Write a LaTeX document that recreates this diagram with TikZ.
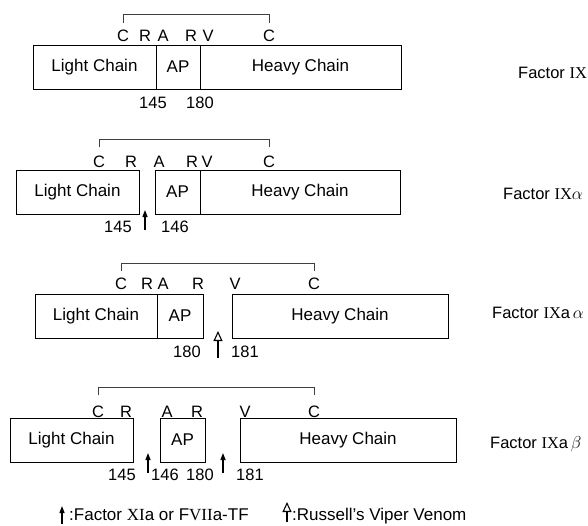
\documentclass[tikz,border=0pt]{standalone}
\usepackage{fontspec}
\setmainfont{Liberation Sans}
\newfontfamily\romfont{Liberation Serif}
\usetikzlibrary{arrows.meta,positioning}

\newcommand{\rn}[1]{{\romfont #1}}

\begin{document}
\begin{tikzpicture}[
    x=1pt, y=-1pt,
    node distance=0pt,
    chain/.style={draw,line width=1pt,minimum height=44pt,inner sep=0pt,outer sep=0pt,font=\fontsize{17}{20}\selectfont},
    res/.style={anchor=base,inner sep=0pt,font=\fontsize{16.5}{19}\selectfont},
    num/.style={anchor=base,inner sep=0pt,font=\fontsize{16.5}{19}\selectfont},
    fac/.style={anchor=base west,inner sep=0pt,font=\fontsize{16.5}{19}\selectfont},
    leg/.style={anchor=base west,inner sep=0pt,font=\fontsize{17}{20}\selectfont},
    bond/.style={draw=black!75,line width=0.9pt},
    cut/.style={-{Triangle[length=7pt,width=5pt]},line width=1.3pt},
    rvv/.style={-{Triangle[open,length=10pt,width=9pt]},line width=1.1pt}
  ]
  \useasboundingbox (0,0) rectangle (588,525);

  % Factor IX
  \node[chain,minimum width=123pt,anchor=north west] (lc1) at (33,45) {Light Chain};
  \node[chain,minimum width=44pt,right=of lc1] (ap1) {AP};
  \node[chain,minimum width=201pt,right=of ap1] (hc1) {Heavy Chain};
  \node[res] (c1a) at (123,41) {C};
  \node[res] (r1a) at (145,41) {R};
  \node[res] (a1) at (163,41) {A};
  \node[res] (r1b) at (191,41) {R};
  \node[res] (v1) at (208,41) {V};
  \node[res] (c1b) at (269,41) {C};
  \draw[bond] ([yshift=6pt]c1a.north) -- ++(0,-9) -| ([yshift=6pt]c1b.north);
  \node[num] (n1a) at (153,108) {145};
  \node[num] (n1b) at (200,108) {180};
  \node[fac] (f1) at (518,78) {Factor \rn{IX}};

  % Factor IXalpha
  \node[chain,minimum width=123pt,anchor=north west] (lc2) at (16,170) {Light Chain};
  \node[chain,minimum width=45pt,right=16pt of lc2] (ap2) {AP};
  \node[chain,minimum width=200pt,right=of ap2] (hc2) {Heavy Chain};
  \node[res] (c2a) at (99,167) {C};
  \node[res] (r2a) at (131,167) {R};
  \node[res] (a2) at (159,167) {A};
  \node[res] (r2b) at (192,167) {R};
  \node[res] (v2) at (207,167) {V};
  \node[res] (c2b) at (269,167) {C};
  \draw[bond] ([yshift=8pt]c2a.north) -- ++(0,-8) -| ([yshift=8pt]c2b.north);
  \node[num] (n2a) at (118,232) {145};
  \node[num] (n2b) at (175,232) {146};
  \coordinate (k2) at (145,210);
  \draw[cut] ([yshift=-20pt]k2) -- (k2);
  \node[fac] (f2) at (503,199) {Factor \rn{IX}$\alpha$};

  % Factor IXa alpha
  \node[chain,minimum width=122pt,anchor=north west] (lc3) at (35,294) {Light Chain};
  \node[chain,minimum width=46pt,right=of lc3] (ap3) {AP};
  \node[chain,minimum width=216pt,right=29pt of ap3] (hc3) {Heavy Chain};
  \node[res] (c3a) at (121,289) {C};
  \node[res] (r3a) at (147,289) {R};
  \node[res] (a3) at (163,289) {A};
  \node[res] (r3b) at (198,289) {R};
  \node[res] (v3) at (235,289) {V};
  \node[res] (c3b) at (314,289) {C};
  \draw[bond] ([yshift=6pt]c3a.north) -- ++(0,-8) -| ([yshift=6pt]c3b.north);
  \node[num] (n3a) at (187,357) {180};
  \node[num] (n3b) at (245,357) {181};
  \coordinate (k3) at (218,331);
  \draw[rvv] ([yshift=-27pt]k3) -- (k3);
  \node[fac] (f3) at (492,318) {Factor \rn{IX}a\,$\alpha$};

  % Factor IXa beta
  \node[chain,minimum width=123pt,anchor=north west] (lc4) at (10,418) {Light Chain};
  \node[chain,minimum width=45pt,right=27pt of lc4] (ap4) {AP};
  \node[chain,minimum width=216pt,right=35pt of ap4] (hc4) {Heavy Chain};
  \node[res] (c4a) at (98,417) {C};
  \node[res] (r4a) at (126,417) {R};
  \node[res] (a4) at (167,417) {A};
  \node[res] (r4b) at (197,417) {R};
  \node[res] (v4) at (245,417) {V};
  \node[res] (c4b) at (314,417) {C};
  \draw[bond] ([yshift=10pt]c4a.north) -- ++(0,-8) -| ([yshift=10pt]c4b.north);
  \node[num] (n4a) at (122,480) {145};
  \node[num] (n4b) at (165,480) {146};
  \node[num] (n4c) at (200,480) {180};
  \node[num] (n4d) at (250,480) {181};
  \coordinate (k4a) at (148,453);
  \coordinate (k4b) at (223,453);
  \draw[cut] ([yshift=-20pt]k4a) -- (k4a);
  \draw[cut] ([yshift=-20pt]k4b) -- (k4b);
  \node[fac] (f4) at (490,448) {Factor \rn{IX}a\,$\beta$};

  % legend
  \coordinate (lk1) at (62,506);
  \draw[cut] ([yshift=-18pt]lk1) -- (lk1);
  \node[leg] (l1) at (69,520) {:Factor \rn{XI}a or F\rn{VII}a-TF};
  \coordinate (lk2) at (287,502);
  \draw[rvv] ([yshift=-20pt]lk2) -- (lk2);
  \node[leg] (l2) at (292,520) {:Russell's Viper Venom};
\end{tikzpicture}
\end{document}
